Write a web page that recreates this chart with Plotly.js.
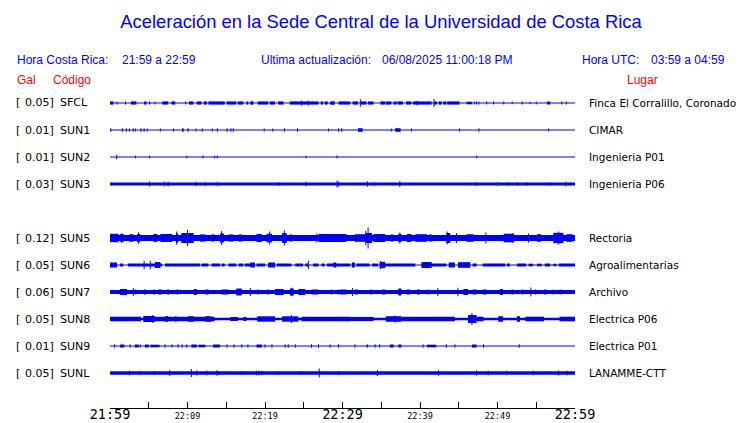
<!DOCTYPE html>
<html><head><meta charset="utf-8">
<script src="https://cdn.plot.ly/plotly-3.0.1.min.js"></script>
<style>body{margin:0;background:#fff}#chart{width:740px;height:423px}</style>
</head><body><div id="chart"></div>
<script>
// ---------- data ----------
const stationCodes = ['SFCL','SUN1','SUN2','SUN3','SUN5','SUN6','SUN7','SUN8','SUN9','SUNL'];
const stationSlots = [0,1,2,3,5,6,7,8,9,10];   // SUN4 slot is empty
const peakGal = ['0.05','0.01','0.01','0.03','0.12','0.05','0.06','0.05','0.01','0.05'];
const places = ['Finca El Corralillo, Coronado','CIMAR','Ingenieria P01','Ingenieria P06','Rectoria',
                'Agroalimentarias','Archivo','Electrica P06','Electrica P01','LANAMME-CTT'];
const tickMinutes = [0,5,10,15,20,25,30,35,40,45,50,55,60];
const tickLabels  = ['21:59','','22:09','','22:19','','22:29','','22:39','','22:49','','22:59'];
const bigTicks    = ['21:59','22:29','22:59'];

// envelope segments [start minute, end minute, half-amplitude] and spikes [minute, half-amplitude]
const SFCL_bursts = [[0,0.45,1.6],[2.7,3.4,1.6],[4.4,4.7,1.6],[6.75,7.5,1.6],[7.95,8.4,1.6],[10.2,10.75,1.6],[11.2,11.8,1.6],[12.1,12.5,1.6],[12.7,14.8,1.6],[15.05,16.3,1.6],[16.5,17.2,1.6],[17.6,17.85,1.6],[18.1,18.5,1.6],[19.05,20.4,1.6],[20.6,21.3,1.6],[21.7,22.4,1.6],[23.2,26.9,1.6],[27.2,27.5,1.6],[27.7,28.1,1.6],[28.4,29.0,1.6],[29.5,31.0,1.6],[31.3,32.0,1.6],[32.3,33.1,1.6],[33.3,34.0,1.6],[34.9,35.5,1.6],[35.6,36.3,1.6],[36.6,37.0,1.6],[37.1,37.8,1.6],[38.2,38.9,1.6],[39.1,41.5,1.6],[41.8,42.2,1.6],[42.4,42.8,1.6],[43.0,43.4,1.6],[43.5,45.1,1.6],[46.0,46.7,1.3],[56.4,56.8,1.5]];
const SFCL_spikes = [[0.9,1.5],[2.0,1.5],[5.1,1.5],[5.8,1.5],[9.75,1.5],[18.3,1.8],[24.7,2.4],[25.6,2.2],[28.8,2.0],[32.3,3.8],[39.6,2.2],[41.8,4.0],[47.0,1.5],[47.3,1.5],[47.6,1.5],[48.6,1.5],[49.5,1.5],[50.8,1.5],[51.9,1.3],[53.2,1.5],[54.2,1.3],[55.0,1.5],[58.3,1.5],[58.9,1.5]];

const SUN1_bursts = [[9.3,9.5,1.7],[10.0,10.15,1.7],[32.0,32.6,1.8],[36.8,37.5,1.8]];
const SUN1_spikes = [[0.1,1.7],[1.6,1.7],[2.1,1.7],[2.5,1.5],[3.0,1.7],[3.3,1.5],[4.0,1.7],[4.4,1.7],[4.8,1.5],[6.5,1.5],[8.2,1.5],[11.1,1.5],[11.9,1.7],[13.2,1.5],[13.85,1.7],[15.1,1.7],[15.6,1.7],[15.9,1.7],[19.9,1.5],[21.0,1.5],[22.5,1.7],[24.2,1.7],[28.2,1.5],[29.5,1.7],[29.9,1.7],[36.3,1.5],[38.9,1.5],[45.1,1.5],[47.6,1.8],[56.6,1.5]];

const SUN2_bursts = [];
const SUN2_spikes = [[0.86,2.2],[3.3,1.3],[5.1,1.3],[9.9,1.3],[12.0,1.5],[13.5,1.5],[13.85,1.5],[25.3,1.3],[29.3,1.5],[47.3,1.3]];

const SUN3_bursts = [[0,60,1.6]];
const SUN3_spikes = [[5.1,2.4],[7.0,2.4],[7.5,2.4],[11.1,2.2],[12.3,2.2],[13.85,2.2],[21.8,1.8],[25.3,2.2],[29.3,3.5],[29.5,2.5],[33.2,2.8],[34.1,2.2],[37.4,3.0],[47.3,2.0],[50.0,1.8],[51.4,1.8],[52.6,1.8],[53.8,1.8],[56.8,1.8],[58.8,2.2],[59.4,1.8]];

const SUN5_bursts = [[0,60,3.0],[0,1.1,4.2],[1.3,1.8,3.8],[2.5,3.0,3.8],[3.5,3.9,4.0],[5.6,6.1,4.0],[6.5,8.0,4.0],[8.5,8.8,4.5],[9.2,10.8,5.0],[11.6,12.3,3.6],[13.1,13.5,3.6],[14.2,14.7,4.5],[15.3,15.9,3.6],[16.6,17.0,3.6],[18.9,19.6,4.0],[20.2,20.9,4.3],[22.2,22.8,5.0],[23.2,23.5,3.6],[26.9,30.5,4.0],[31.6,33.0,3.8],[33.0,33.8,5.0],[34.0,35.5,4.0],[36.2,36.6,3.5],[37.2,37.6,4.0],[38.3,38.9,4.0],[39.4,40.9,3.8],[41.2,41.6,3.5],[43.4,43.9,5.0],[46.0,46.9,3.8],[50.8,52.1,4.3],[55.1,55.6,3.8],[57.2,58.5,5.2],[58.9,59.7,3.8]];
const SUN5_spikes = [[1.5,5.0],[3.7,6.0],[8.6,6.5],[10.0,8.0],[14.4,7.0],[20.6,6.5],[22.5,7.5],[26.7,4.5],[33.0,7.0],[33.3,10.5],[37.4,5.5],[43.5,6.5],[44.7,5.0],[48.5,5.5],[52.0,5.0],[54.0,4.5],[57.9,6.5]];

const SUN6_bursts = [[0,0.9,2.5],[1.3,1.7,1.5],[2.3,6.7,1.5],[7.1,11.6,1.5],[11.8,12.7,1.5],[13.1,14.2,1.5],[14.4,14.8,1.5],[15.3,16.3,1.5],[16.6,17.2,1.5],[17.4,18.7,1.5],[18.9,20.0,1.5],[20.4,21.3,2.5],[21.5,23.4,1.5],[23.9,24.9,1.5],[25.2,25.6,1.5],[26.2,26.9,1.5],[27.3,27.7,1.5],[28.0,31.0,1.5],[31.8,33.5,1.5],[33.8,34.6,1.5],[34.8,39.4,1.5],[40.2,43.4,1.5],[43.7,44.5,2.5],[44.9,46.5,2.8],[46.8,47.3,1.5],[48.1,51.0,1.5],[51.2,51.6,1.5],[52.5,53.7,1.5],[54.0,54.6,1.3],[55.1,55.7,1.3],[56.1,56.8,1.5],[57.2,57.6,1.3],[57.9,60,1.5],[5.8,6.5,3.0],[18.1,18.7,2.5],[28.8,29.2,2.5],[31.2,31.6,2.5],[34.8,35.5,3.2],[40.2,41.5,3.0]];
const SUN6_spikes = [[4.4,4.0],[5.2,4.2],[25.6,4.0],[34.9,4.0]];

const SUN7_bursts = [[0,60,1.9],[1.3,2.2,3.0],[3.2,3.4,2.5],[5.6,5.8,2.5],[6.2,6.7,2.5],[8.6,8.8,2.5],[10.8,11.2,3.0],[12.3,12.7,2.5],[14.4,15.3,2.5],[16.3,17.0,3.5],[21.3,22.4,3.0],[23.2,23.7,3.5],[24.3,25.2,3.0],[26.0,26.9,2.5],[29.7,30.5,2.5],[31.6,32.0,2.5],[33.5,33.9,2.3],[35.1,35.5,2.5],[37.2,37.6,3.5],[38.3,38.7,2.5],[39.6,40.0,2.5],[45.6,46.2,3.0],[46.8,47.3,2.5],[48.1,48.6,2.5],[50.3,50.7,3.0],[51.8,52.0,2.5],[53.1,53.3,2.5],[54.8,55.0,2.5],[56.0,56.3,2.5]];
const SUN7_spikes = [[3.0,4.0],[4.5,3.0],[7.5,3.0],[18.1,4.0],[19.1,2.8],[20.4,2.8],[23.5,4.2],[28.6,2.5],[29.5,2.5],[31.3,4.0],[41.0,2.5],[42.3,4.0],[44.9,4.3],[54.3,4.5],[57.2,2.5],[58.1,2.5]];

const SUN8_bursts = [[0,60,1.3],[0,4.0,2.3],[4.3,5.8,3.0],[5.8,13.5,2.3],[7.1,7.5,2.8],[8.4,8.6,2.8],[10.1,10.8,2.8],[12.3,13.1,2.8],[15.5,16.5,2.0],[17.2,17.6,2.0],[19.0,21.3,2.7],[22.2,24.3,2.7],[24.7,31.0,2.3],[31.0,34.0,2.1],[35.6,37.6,2.8],[37.6,44.5,2.3],[46.2,47.3,4.0],[47.3,48.2,2.3],[50.1,50.7,2.8],[52.5,52.9,2.8],[53.6,56.0,2.3],[58.0,60,2.3]];
const SUN8_spikes = [[5.5,4.0],[23.4,4.0],[36.8,3.5],[46.7,6.0]];

const SUN9_bursts = [[1.3,1.85,1.5],[3.2,3.7,1.5],[4.5,5.0,1.5],[5.2,6.4,1.3],[10.5,11.2,1.5],[11.4,12.3,1.3],[13.3,14.2,1.5],[18.9,19.6,1.5],[33.1,33.3,1.5],[36.1,36.6,1.5],[37.2,37.6,1.5],[40.9,42.1,1.3],[46.7,47.3,1.5]];
const SUN9_spikes = [[0.6,1.8],[2.6,1.8],[3.9,1.8],[7.1,1.8],[8.0,1.8],[8.8,1.8],[9.3,1.8],[9.9,1.8],[15.1,1.8],[16.0,1.8],[17.0,1.8],[17.8,1.8],[20.0,1.8],[20.9,1.8],[22.6,1.8],[23.0,1.8],[23.9,1.8],[26.0,1.8],[26.9,1.8],[28.4,1.8],[29.5,1.8],[31.6,1.8],[34.2,1.8],[34.8,1.8],[40.4,1.8],[43.4,1.8],[44.5,1.8],[48.2,1.8],[52.8,1.8]];

const SUNL_bursts = [[0,60,1.7]];
const SUNL_spikes = [[2.5,2.3],[3.8,2.0],[5.7,2.0],[7.7,2.8],[10.5,4.0],[11.2,2.5],[12.5,2.3],[13.8,2.8],[14.0,2.0],[17.0,2.0],[18.9,2.2],[19.2,2.2],[19.6,2.2],[21.7,2.0],[24.7,2.0],[27.0,4.5],[29.5,2.0],[34.5,3.0],[42.4,2.8],[47.3,2.5],[48.8,2.2],[51.2,2.2],[54.6,2.2],[57.9,2.5],[59.0,2.2]];

const allBursts = [SFCL_bursts,SUN1_bursts,SUN2_bursts,SUN3_bursts,SUN5_bursts,SUN6_bursts,SUN7_bursts,SUN8_bursts,SUN9_bursts,SUNL_bursts];
const allSpikes = [SFCL_spikes,SUN1_spikes,SUN2_spikes,SUN3_spikes,SUN5_spikes,SUN6_spikes,SUN7_spikes,SUN8_spikes,SUN9_spikes,SUNL_spikes];

// ---------- layout constants ----------
const W = 740, H = 423;
const ML = 110, MR = 165, MT = 92, MB = 15;
const PW = W - ML - MR, PH = H - MT - MB;
const ROW = 27, FIRST = 11;           // px spacing between rows, first row below top
const SPIKE_W = 60 / PW;              // about one pixel, in minutes
const BLUE = '#0000ff', RED = '#ff0000';
const px2x = p => (p - ML) / PW;
const py2y = p => (H - MB - p) / PH;

const traces = [];
stationCodes.forEach((code, i) => {
  const y0 = -(FIRST + ROW * stationSlots[i]);
  traces.push({type:'scatter', mode:'lines', x:[0,60], y:[y0,y0],
    line:{color:BLUE, width:1}, hoverinfo:'skip', showlegend:false});
  const bx = [], bw = [], bb = [], bh = [];
  allBursts[i].forEach(([s,e,a]) => { bx.push((s+e)/2); bw.push(e-s); bb.push(y0-a); bh.push(2*a); });
  allSpikes[i].forEach(([t,a]) => { bx.push(t); bw.push(SPIKE_W); bb.push(y0-a); bh.push(2*a); });
  if (bx.length) traces.push({type:'bar', x:bx, y:bh, base:bb, width:bw,
    marker:{color:BLUE, line:{width:0}}, hoverinfo:'skip', showlegend:false});
});

const hdr = {family:'Liberation Sans, Arial, sans-serif', size:12, color:BLUE};
const red = {family:'Liberation Sans, Arial, sans-serif', size:12, color:RED};
const lab = {family:'DejaVu Sans, sans-serif', size:11, color:'#000'};
const plc = {family:'DejaVu Sans, sans-serif', size:10.5, color:'#000'};
const ann = (t, px, py, f, xa) => ({text:t, xref:'paper', yref:'paper', x:px2x(px), y:py2y(py),
  xanchor:xa||'left', yanchor:'middle', showarrow:false, font:f});

const annotations = [
  ann('Hora Costa Rica:', 15, 60, hdr),
  ann('21:59 a 22:59', 120, 60, hdr),
  ann('Ultima actualización:', 259, 60, hdr),
  ann('06/08/2025 11:00:18 PM', 380, 60, hdr),
  ann('Hora UTC:', 580, 60, hdr),
  ann('03:59 a 04:59', 727, 60, hdr, 'right'),
  ann('Gal', 15, 80, red),
  ann('Código', 51, 80, red),
  ann('Lugar', 625, 80, red)
];
stationCodes.forEach((code, i) => {
  const py = MT + FIRST + ROW * stationSlots[i];
  annotations.push(ann('[', 14, py, lab));
  annotations.push(ann(peakGal[i] + ']', 56, py, lab, 'right'));
  annotations.push(ann(code, 58, py, lab));
  annotations.push(ann(places[i], 587, py, plc));
});

const tickText = tickLabels.map(t => bigTicks.includes(t) ? '<span style="font-size:13.5px">' + t + '</span>' : t);

const layout = {
  width:W, height:H, margin:{l:ML, r:MR, t:MT, b:MB},
  paper_bgcolor:'#fff', plot_bgcolor:'#fff', showlegend:false,
  barmode:'overlay',
  title:{text:'Aceleración en la Sede Central de la Universidad de Costa Rica',
    font:{family:'Liberation Sans, Arial, sans-serif', size:18.4, color:BLUE},
    x:381/W, xanchor:'center', y:1-22/H, yanchor:'middle', xref:'container', yref:'container'},
  xaxis:{range:[0,60], tickmode:'array', tickvals:tickMinutes, ticktext:tickText,
    ticks:'inside', ticklen:6, tickcolor:'#000', tickwidth:1,
    showline:true, linecolor:'#000', linewidth:1, showgrid:false, zeroline:false,
    tickfont:{family:'DejaVu Sans Mono, monospace', size:8.5, color:'#000'}, fixedrange:true},
  yaxis:{range:[-PH, 0], visible:false, showgrid:false, zeroline:false, fixedrange:true},
  annotations:annotations
};
Plotly.newPlot('chart', traces, layout, {staticPlot:true, displayModeBar:false});
</script></body></html>
